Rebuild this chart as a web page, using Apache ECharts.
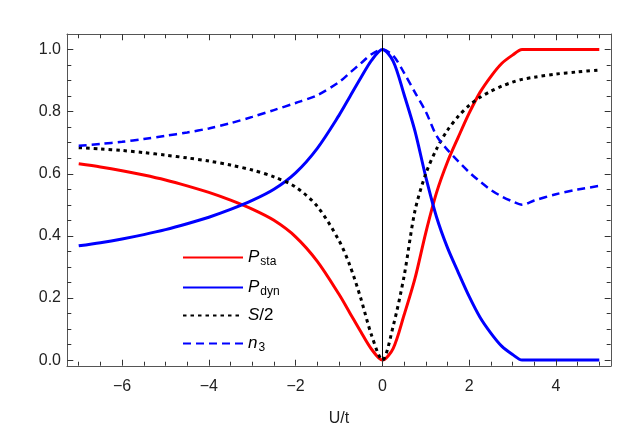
<!DOCTYPE html>
<html>
<head>
<meta charset="utf-8">
<script src="https://cdn.jsdelivr.net/npm/echarts@6/dist/echarts.min.js"></script>
<style>
html, body { margin: 0; padding: 0; background: #fff; }
#chart { width: 644px; height: 432px; }
</style>
</head>
<body>
<div id="chart"></div>
<script>
// U/t sample points
const uValues = [-7, -6.5, -6, -5.5, -5, -4.5, -4, -3.5, -3, -2.5, -2, -1.5, -1, -0.75, -0.5, -0.25,
  0, 0.25, 0.5, 0.75, 1, 1.25, 1.5, 1.75, 2, 2.25, 2.5, 2.75, 3, 3.22, 3.5, 4, 4.5, 5];

const pSta = [0.632, 0.622, 0.610, 0.596, 0.580, 0.561, 0.540, 0.515, 0.486, 0.450, 0.397, 0.318, 0.212, 0.152, 0.092, 0.035,
  0.000, 0.038, 0.145, 0.262, 0.410, 0.540, 0.638, 0.718, 0.795, 0.862, 0.913, 0.955, 0.982, 1.000, 1.000, 1.000, 1.000, 1.000];

const pDyn = [0.368, 0.378, 0.390, 0.404, 0.420, 0.439, 0.460, 0.485, 0.514, 0.550, 0.603, 0.682, 0.788, 0.848, 0.908, 0.965,
  1.000, 0.962, 0.855, 0.738, 0.590, 0.460, 0.362, 0.282, 0.205, 0.138, 0.087, 0.045, 0.018, 0.000, 0.000, 0.000, 0.000, 0.000];

const sHalf = [0.684, 0.680, 0.675, 0.668, 0.660, 0.651, 0.641, 0.628, 0.612, 0.590, 0.557, 0.495, 0.385, 0.305, 0.200, 0.080,
  0.000, 0.110, 0.270, 0.480, 0.600, 0.680, 0.740, 0.785, 0.820, 0.846, 0.866, 0.882, 0.895, 0.904, 0.911, 0.921, 0.928, 0.934];

const n3 = [0.690, 0.696, 0.703, 0.712, 0.722, 0.733, 0.746, 0.763, 0.783, 0.805, 0.828, 0.853, 0.895, 0.925, 0.955, 0.985,
  1.000, 0.980, 0.925, 0.862, 0.800, 0.722, 0.677, 0.640, 0.605, 0.575, 0.548, 0.527, 0.511, 0.500, 0.514, 0.534, 0.549, 0.561];

const seriesNames = ['P_sta', 'P_dyn', 'S/2', 'n_3'];
const legendText = {
  'P_sta': '{i|P}{s|sta}',
  'P_dyn': '{i|P}{s|dyn}',
  'S/2': '{i|S}{n|/2}',
  'n_3': '{i|n}{s|3}'
};

const xMajorTicks = [-6, -4, -2, 0, 2, 4];
const xMinorTicks = [-7, -6.5, -5.5, -5, -4.5, -3.5, -3, -2.5, -1.5, -1, -0.5, 0.5, 1, 1.5, 2.5, 3, 3.5, 4.5, 5];
const yMajorTicks = [0, 0.2, 0.4, 0.6, 0.8, 1.0];
const yMinorTicks = [0.05, 0.1, 0.15, 0.25, 0.3, 0.35, 0.45, 0.5, 0.55, 0.65, 0.7, 0.75, 0.85, 0.9, 0.95];

const X_MIN = -7.27, X_MAX = 5.27;
const Y_MIN = -0.019, Y_MAX = 1.05;
const GRID = { left: 67, right: 33, top: 34, bottom: 64 };

const font = 'Liberation Sans, Arial, sans-serif';
const frameColor = '#555';
const tickColor = '#333';

function pairs(ys) {
  return uValues.map((u, i) => [u, ys[i]]);
}

// inward frame ticks on all four sides, as markLine segments in data units
// (kept a hair inside the axis extent so no segment gets filtered out)
const dxPerPx = (X_MAX - X_MIN) / (644 - GRID.left - GRID.right);
const dyPerPx = (Y_MAX - Y_MIN) / (432 - GRID.top - GRID.bottom);
const yLo = Y_MIN + 0.3 * dyPerPx, yHi = Y_MAX - 0.3 * dyPerPx;
const xLo = X_MIN + 0.3 * dxPerPx, xHi = X_MAX - 0.3 * dxPerPx;
function seg(a, b) {
  return [{ coord: a }, { coord: b, lineStyle: { color: tickColor, width: 1, type: 'solid' } }];
}
const frameTicks = [];
[[xMajorTicks, 6], [xMinorTicks, 4]].forEach(([vals, len]) => vals.forEach(v => {
  frameTicks.push(seg([v, yLo], [v, yLo + len * dyPerPx]));
  frameTicks.push(seg([v, yHi], [v, yHi - len * dyPerPx]));
}));
[[yMajorTicks, 6], [yMinorTicks, 4]].forEach(([vals, len]) => vals.forEach(v => {
  frameTicks.push(seg([xLo, v], [xLo + len * dxPerPx, v]));
  frameTicks.push(seg([xHi, v], [xHi - len * dxPerPx, v]));
}));

const axisBase = {
  type: 'value',
  axisTick: { show: false },
  splitLine: { show: false }
};

const chart = echarts.init(document.getElementById('chart'));

chart.setOption({
  animation: false,
  backgroundColor: '#fff',
  grid: GRID,
  xAxis: [
    Object.assign({}, axisBase, {
      position: 'bottom', min: X_MIN, max: X_MAX,
      name: 'U/t', nameLocation: 'middle', nameGap: 45,
      nameTextStyle: { fontFamily: font, fontSize: 16, color: '#222' },
      axisLine: { onZero: false, lineStyle: { color: frameColor, width: 1 } },
      axisLabel: {
        customValues: xMajorTicks, margin: 13,
        fontFamily: font, fontSize: 16, color: '#222',
        formatter: v => (v < 0 ? '\u2212' + Math.abs(v) : String(v))
      }
    }),
    Object.assign({}, axisBase, {
      position: 'top', min: X_MIN, max: X_MAX,
      axisLine: { onZero: false, lineStyle: { color: frameColor, width: 1 } },
      axisLabel: { show: false }
    })
  ],
  yAxis: [
    Object.assign({}, axisBase, {
      position: 'left', min: Y_MIN, max: Y_MAX,
      axisLine: { show: true, onZero: false, lineStyle: { color: frameColor, width: 1 } },
      axisLabel: {
        customValues: yMajorTicks, margin: 6,
        fontFamily: font, fontSize: 16, color: '#222',
        formatter: v => v.toFixed(1)
      }
    }),
    Object.assign({}, axisBase, {
      position: 'right', min: Y_MIN, max: Y_MAX,
      axisLine: { show: true, onZero: false, lineStyle: { color: frameColor, width: 1 } },
      axisLabel: { show: false }
    })
  ],
  legend: {
    orient: 'vertical', left: 177, top: 242,
    itemWidth: 60, itemHeight: 14, itemGap: 9,
    data: seriesNames,
    formatter: name => legendText[name],
    itemStyle: { opacity: 0 },
    textStyle: {
      fontFamily: font, fontSize: 16, color: '#000',
      rich: {
        i: { fontFamily: font, fontStyle: 'italic', fontSize: 17, lineHeight: 20 },
        n: { fontFamily: font, fontSize: 17, lineHeight: 20 },
        s: { fontFamily: font, fontSize: 12, lineHeight: 20, padding: [9, 0, 0, 1] }
      }
    }
  },
  series: [
    {
      name: 'P_sta', type: 'line', smooth: 0.3, symbol: 'none',
      data: pairs(pSta),
      lineStyle: { color: '#ff0000', width: 3 }, itemStyle: { color: '#ff0000' },
      markLine: {
        silent: true, symbol: 'none', label: { show: false },
        emphasis: { disabled: true },
        lineStyle: { color: '#000', width: 1, type: 'solid' },
        data: [{ xAxis: 0 }].concat(frameTicks)
      }
    },
    {
      name: 'P_dyn', type: 'line', smooth: 0.3, symbol: 'none',
      data: pairs(pDyn),
      lineStyle: { color: '#0000ff', width: 3 }, itemStyle: { color: '#0000ff' }
    },
    {
      name: 'S/2', type: 'line', smooth: 0.3, symbol: 'none',
      data: pairs(sHalf),
      lineStyle: { color: '#000000', width: 3, type: [3.5, 4] }, itemStyle: { color: '#000000' }
    },
    {
      name: 'n_3', type: 'line', smooth: 0.3, symbol: 'none',
      data: pairs(n3),
      lineStyle: { color: '#0000ff', width: 2.5, type: [8, 5] }, itemStyle: { color: '#0000ff' }
    }
  ]
});
</script>
</body>
</html>
